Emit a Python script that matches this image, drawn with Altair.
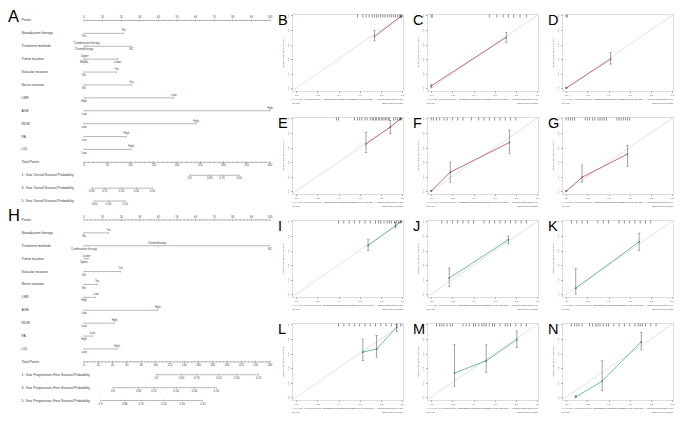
import altair as alt
import pandas as pd

FONT = "Liberation Sans"

# ---------------- Nomogram A (overall survival) ----------------
A_rows = ["Points", "Neoadjuvant  therapy", "Treatment  methods", "Tumor  location",
          "Vascular  invasion", "Nerve  invasion", "LMR", "AGE", "RDW", "PA", "LDL",
          "Total Points", "1- Year Overall Survival Probability",
          "3- Year Overall Survival Probability", "5- Year Overall Survival Probability"]
A_var_end = [21.4, 25.4, 18.3, 17.6, 25.6, 48.3, 100, 60.3, 22.8, 25.3]
A_lev_row = [1, 1, 2, 2, 2, 3, 3, 3, 4, 4, 5, 5, 6, 6, 7, 7, 8, 8, 9, 9, 10, 10]
A_lev_pos = [21.4, 0, 1.5, 0, 25.4, 0.5, 0, 18.1, 17.6, 0, 25.6, 0, 48.3, 0, 100, 0, 60.3, 0, 22.8, 0, 25.3, 0]
A_lev_text = ["No", "Yes", "Combination therapy", "Chemotherapy", "NC", "Upper", "Middle", "Lower",
              "Yes", "No", "Yes", "No", "Low", "High", "High", "Low", "High", "Low", "High", "Low", "High", "Low"]
A_lev_side = ["up", "dn", "up", "dn", "dn", "up", "dn", "dn", "up", "dn", "up", "dn",
              "up", "dn", "up", "dn", "up", "dn", "up", "dn", "up", "dn"]
A_total_max, A_total_step, A_total_minor = 400, 50, 10
A_1y_text = ["0.9", "0.80", "0.70", "0.50"]
A_1y_pos = [56.8, 67.6, 74.2, 83.4]
A_3y_text = ["0.80", "0.70", "0.50", "0.30", "0.10"]
A_3y_pos = [4.2, 11.1, 20.2, 28.2, 36.8]
A_5y_text = ["0.50", "0.30", "0.10"]
A_5y_pos = [5.7, 13.2, 22.1]

# ---------------- Nomogram H (progression-free survival) ----------------
H_rows = ["Points", "Neoadjuvant  therapy", "Treatment  methods", "Tumor  location",
          "Vascular  invasion", "Nerve  invasion", "LMR", "AGE", "RDW", "PA", "LDL",
          "Total Points", "1- Year Progression\u2013Free Survival Probability",
          "3- Year Progression\u2013Free Survival Probability",
          "5- Year Progression\u2013Free Survival Probability"]
H_var_end = [13.2, 100, 2.8, 19.7, 7.1, 6.4, 39.7, 16.4, 4.5, 17.8]
H_lev_row = [1, 1, 2, 2, 2, 3, 3, 4, 4, 5, 5, 6, 6, 7, 7, 8, 8, 9, 9, 10, 10]
H_lev_pos = [13.2, 0, 39.4, 0, 100, 1.4, 0, 19.7, 0, 7.1, 0, 6.4, 0, 39.7, 0, 16.4, 0, 4.5, 0, 17.8, 0]
H_lev_text = ["Yes", "No", "Chemotherapy", "Combination therapy", "NC", "Lower", "Upper",
              "Yes", "No", "Yes", "No", "Low", "High", "High", "Low", "High", "Low", "Low", "High", "High", "Low"]
H_lev_side = ["up", "dn", "up", "dn", "dn", "up", "dn", "up", "dn", "up", "dn",
              "up", "dn", "up", "dn", "up", "dn", "up", "dn", "up", "dn"]
H_total_max, H_total_step, H_total_minor = 260, 20, 5
H_1y_text = ["0.9", "0.80", "0.70", "0.50", "0.30", "0.10"]
H_1y_pos = [38.9, 52.4, 60.6, 72.5, 82.1, 93.9]
H_3y_text = ["0.9", "0.80", "0.70", "0.50", "0.30", "0.10"]
H_3y_pos = [15.5, 29.4, 37.6, 49.5, 59.4, 71.1]
H_5y_text = ["0.9", "0.80", "0.70", "0.50", "0.30", "0.10"]
H_5y_pos = [8.9, 22.0, 30.7, 42.9, 52.8, 63.9]

# ---------------- Calibration curves ----------------
B_x, B_y, B_lo, B_hi = [0.74, 0.995], [0.71, 0.99], [0.65, 0.97], [0.79, 1.0]
B_rug = [0.58, 0.63, 0.66, 0.69, 0.72, 0.74, 0.76, 0.78, 0.80, 0.82, 0.84, 0.86, 0.88, 0.90, 0.92, 0.94, 0.96, 0.98, 0.99]
C_x, C_y, C_lo, C_hi = [0.0, 0.71], [0.03, 0.70], [0.01, 0.63], [0.05, 0.77]
C_rug = [0.0, 0.01, 0.55, 0.62, 0.68, 0.73, 0.78, 0.84, 0.90]
D_x, D_y, D_lo, D_hi = [0.0, 0.42], [0.0, 0.40], [0.0, 0.33], [0.01, 0.49]
D_rug = [0.0, 0.01]
E_x, E_y, E_lo, E_hi = [0.66, 0.89, 0.99], [0.65, 0.88, 1.0], [0.53, 0.79, 0.99], [0.81, 0.97, 1.0]
E_rug = [0.38, 0.40, 0.55, 0.58, 0.60, 0.62, 0.65, 0.67, 0.70, 0.72, 0.73, 0.75, 0.76, 0.78, 0.79, 0.81, 0.82, 0.84, 0.85, 0.87, 0.88, 0.92, 0.94, 0.96, 0.98, 0.99]
F_x, F_y, F_lo, F_hi = [0.0, 0.18, 0.74], [0.0, 0.26, 0.67], [0.0, 0.12, 0.52], [0.01, 0.40, 0.84]
F_rug = [0.0, 0.02, 0.05, 0.08, 0.12, 0.15, 0.2, 0.25, 0.3, 0.38, 0.45, 0.5, 0.55, 0.6, 0.65, 0.7, 0.75, 0.8]
G_x, G_y, G_lo, G_hi = [0.0, 0.15, 0.58], [0.0, 0.19, 0.51], [0.0, 0.12, 0.34], [0.01, 0.36, 0.63]
G_rug = [0.0, 0.02, 0.04, 0.06, 0.08, 0.18, 0.2, 0.22, 0.25, 0.27, 0.3, 0.32, 0.34, 0.36, 0.38, 0.48, 0.5, 0.52, 0.54, 0.56, 0.58, 0.6]
I_x, I_y, I_lo, I_hi = [0.68, 0.94, 0.99], [0.67, 0.94, 1.0], [0.60, 0.91, 0.99], [0.75, 0.99, 1.0]
I_rug = [0.4, 0.45, 0.5, 0.55, 0.6, 0.65, 0.7, 0.75, 0.78, 0.8, 0.83, 0.86, 0.88, 0.9, 0.93, 0.95, 0.97, 0.99]
J_x, J_y, J_lo, J_hi = [0.17, 0.73], [0.22, 0.75], [0.1, 0.69], [0.36, 0.8]
J_rug = [0.1, 0.15, 0.2, 0.25, 0.3, 0.35, 0.4, 0.5, 0.55, 0.6, 0.65, 0.7, 0.75, 0.8, 0.85, 0.9]
K_x, K_y, K_lo, K_hi = [0.09, 0.69], [0.08, 0.72], [0.0, 0.6], [0.35, 0.84]
K_rug = [0.05, 0.1, 0.15, 0.2, 0.3, 0.35, 0.4, 0.5, 0.55, 0.6, 0.65, 0.7, 0.75, 0.8]
L_x, L_y, L_lo, L_hi = [0.63, 0.76, 0.95], [0.62, 0.66, 0.96], [0.5, 0.55, 0.9], [0.8, 0.85, 1.0]
L_rug = [0.4, 0.45, 0.5, 0.55, 0.6, 0.65, 0.7, 0.75, 0.8, 0.85, 0.9, 0.95, 0.99]
M_x, M_y, M_lo, M_hi = [0.22, 0.52, 0.81], [0.33, 0.50, 0.79], [0.15, 0.34, 0.68], [0.72, 0.72, 0.91]
M_rug = [0.05, 0.08, 0.1, 0.12, 0.15, 0.18, 0.2, 0.3, 0.33, 0.36, 0.4, 0.42, 0.45, 0.48, 0.5, 0.52, 0.55, 0.58, 0.6, 0.65, 0.7, 0.72, 0.75, 0.8, 0.85, 0.9]
N_x, N_y, N_lo, N_hi = [0.09, 0.34, 0.71], [0.0, 0.22, 0.76], [0.0, 0.09, 0.65], [0.02, 0.50, 0.89]
N_rug = [0.05, 0.08, 0.1, 0.12, 0.15, 0.22, 0.25, 0.28, 0.3, 0.32, 0.35, 0.38, 0.4, 0.45, 0.5, 0.55, 0.6, 0.65, 0.68, 0.7, 0.72, 0.75, 0.8, 0.85]

FOOT_L = "n=444 d=120 p=11, 50 subjects per group\nGray: ideal"
FOOT_R = "X - resampling optimism added, B=1000\nBased on observed-predicted"

OS_LINE, OS_PT = "#b5486c", "#6b3d9a"
PFS_LINE, PFS_PT = "#4aa898", "#2a4fc0"

NOMO_W, NOMO_H = 186, 193.5
CAL_W, CAL_H = 111, 77


def nomogram(rows, var_end, lev_row, lev_pos, lev_text, lev_side, tp_max, tp_step, tp_minor,
             probs, letter):
    n = len(rows)
    segs, ticks, labs = [], [], []
    segs.append((0, 0, 100))
    for v in range(0, 101, 2):
        ticks.append((0, v, 1.6))
    for v in range(0, 101, 10):
        ticks.append((0, v, 2.6))
        labs.append((0, v, str(v), "up"))
    for i, e in enumerate(var_end):
        segs.append((i + 1, 0, e))
    for r, p, t, s in zip(lev_row, lev_pos, lev_text, lev_side):
        ticks.append((r, p, 2.2))
        labs.append((r, p, t, s))
    tr = len(var_end) + 1
    segs.append((tr, 0, 100))
    for v in range(0, tp_max + 1, tp_minor):
        ticks.append((tr, v / tp_max * 100, 1.6))
    for v in range(0, tp_max + 1, tp_step):
        ticks.append((tr, v / tp_max * 100, 2.6))
        labs.append((tr, v / tp_max * 100, str(v), "dn"))
    for k, (texts, pos) in enumerate(probs):
        r = tr + 1 + k
        segs.append((r, min(pos), max(pos)))
        for t, p in zip(texts, pos):
            ticks.append((r, p, 2.4))
            labs.append((r, p, t, "dn"))

    seg_df = pd.DataFrame(segs, columns=["row", "x0", "x1"])
    tick_df = pd.DataFrame(ticks, columns=["row", "x", "sz"])
    lab_df = pd.DataFrame(labs, columns=["row", "x", "text", "side"])
    row_df = pd.DataFrame({"row": list(range(n)), "label": rows})

    xs = alt.Scale(domain=[0, 100], nice=False, zero=False)
    ys = alt.Scale(domain=[-0.5, n - 0.5], reverse=True, nice=False, zero=False)
    Y = alt.Y("row:Q", scale=ys, axis=None)

    names = alt.Chart(row_df).mark_text(align="left", baseline="middle", fontSize=3.4,
                                        color="#333", font=FONT).encode(
        x=alt.value(-62.5), y=Y, text="label:N")
    lines = alt.Chart(seg_df).mark_rule(color="#9a9a9a", strokeWidth=0.7).encode(
        x=alt.X("x0:Q", scale=xs, axis=None), x2="x1:Q", y=Y)
    tk = alt.Chart(tick_df).mark_tick(orient="vertical", color="#8a8a8a", thickness=0.5).encode(
        x=alt.X("x:Q", scale=xs, axis=None), y=Y, size=alt.Size("sz:Q", scale=None, legend=None))
    up = alt.Chart(lab_df).transform_filter(alt.datum.side == "up").mark_text(
        baseline="bottom", dy=-1.6, fontSize=2.8, color="#444", font=FONT).encode(
        x=alt.X("x:Q", scale=xs, axis=None), y=Y, text="text:N")
    dn = alt.Chart(lab_df).transform_filter(alt.datum.side == "dn").mark_text(
        baseline="top", dy=1.6, fontSize=2.8, color="#444", font=FONT).encode(
        x=alt.X("x:Q", scale=xs, axis=None), y=Y, text="text:N")
    row0 = NOMO_H / n / 2
    let = alt.Chart(pd.DataFrame({"t": [letter]})).mark_text(
        align="left", baseline="alphabetic", fontSize=16.5, font=FONT, color="#000").encode(
        x=alt.value(-76), y=alt.value(row0 + 1.3), text="t:N")
    return alt.layer(lines, tk, up, dn, names, let).properties(
        width=NOMO_W, height=NOMO_H, view=alt.ViewBackground(stroke=None))


def calib(letter, px, py, lo, hi, rug, horizon, endpoint, line_c, pt_c):
    xs = alt.Scale(domain=[-0.04, 1.01], nice=False, zero=False)
    ys = alt.Scale(domain=[-0.04, 1.02], nice=False, zero=False)
    common = dict(values=[0, 0.2, 0.4, 0.6, 0.8, 1.0], format=".1f", labelFontSize=2.4,
                  titleFontSize=2.4, tickSize=1.5, grid=False, domain=False, titlePadding=1.5,
                  labelPadding=1, tickColor="#333", tickWidth=0.4, labelColor="#333",
                  titleColor="#333", titleFontWeight="normal", labelFont=FONT, titleFont=FONT)
    xax = alt.Axis(title=f"Nomogram Predicted Probability of {horizon} {endpoint}", **common)
    yax = alt.Axis(title=f"Actual {horizon} {endpoint}(proportion)", labelAngle=-90,
                   labelAlign="center", labelBaseline="bottom", **common)
    X = lambda f: alt.X(f, scale=xs, axis=xax)
    Yf = lambda f: alt.Y(f, scale=ys, axis=yax)

    ideal = pd.DataFrame({"x": [-0.04, 1.02], "y": [-0.04, 1.02]})
    pts = pd.DataFrame({"x": px, "y": py, "lo": lo, "hi": hi})
    caps = pd.DataFrame({"x": px + px, "y": lo + hi})
    rug_df = pd.DataFrame({"r": rug})
    txt = pd.DataFrame({"l": [FOOT_L], "r": [FOOT_R], "t": [letter]})

    base_ideal = alt.Chart(ideal).mark_line(color="#cfcfcf", strokeWidth=0.6, clip=True).encode(
        x=X("x:Q"), y=Yf("y:Q"))
    cal_line = alt.Chart(pts).mark_line(color=line_c, strokeWidth=0.8).encode(x=X("x:Q"), y=Yf("y:Q"))
    bars = alt.Chart(pts).mark_rule(color="#444", strokeWidth=0.5).encode(
        x=X("x:Q"), y=Yf("lo:Q"), y2="hi:Q")
    cap = alt.Chart(caps).mark_tick(orient="horizontal", color="#444", size=2.5, thickness=0.5,
                                    clip=True).encode(x=X("x:Q"), y=Yf("y:Q"))
    dots = alt.Chart(pts).mark_point(shape="circle", size=3, color=pt_c, filled=True).encode(
        x=X("x:Q"), y=Yf("y:Q"))
    rugs = alt.Chart(rug_df).mark_rule(color="#222", strokeWidth=0.5).encode(
        x=X("r:Q"), y=alt.value(0.5), y2=alt.value(3.5))
    fl = alt.Chart(txt).mark_text(align="left", baseline="top", fontSize=1.6, lineBreak="\n",
                                  color="#444", font=FONT).encode(
        x=alt.value(0), y=alt.value(CAL_H + 8), text="l:N")
    fr = alt.Chart(txt).mark_text(align="right", baseline="top", fontSize=1.6, lineBreak="\n",
                                  color="#444", font=FONT).encode(
        x=alt.value(CAL_W), y=alt.value(CAL_H + 8), text="r:N")
    let = alt.Chart(txt).mark_text(align="left", baseline="alphabetic", fontSize=14.5,
                                   font=FONT, color="#000").encode(
        x=alt.value(-14), y=alt.value(10.5), text="t:N")
    return alt.layer(base_ideal, cal_line, bars, cap, dots, rugs, fl, fr, let).properties(
        width=CAL_W, height=CAL_H)


nomA = nomogram(A_rows, A_var_end, A_lev_row, A_lev_pos, A_lev_text, A_lev_side,
                A_total_max, A_total_step, A_total_minor,
                [(A_1y_text, A_1y_pos), (A_3y_text, A_3y_pos), (A_5y_text, A_5y_pos)], "A")
nomH = nomogram(H_rows, H_var_end, H_lev_row, H_lev_pos, H_lev_text, H_lev_side,
                H_total_max, H_total_step, H_total_minor,
                [(H_1y_text, H_1y_pos), (H_3y_text, H_3y_pos), (H_5y_text, H_5y_pos)], "H")

panels = [
    calib("B", B_x, B_y, B_lo, B_hi, B_rug, "1-year", "OS", OS_LINE, OS_PT),
    calib("C", C_x, C_y, C_lo, C_hi, C_rug, "3-year", "OS", OS_LINE, OS_PT),
    calib("D", D_x, D_y, D_lo, D_hi, D_rug, "5-year", "OS", OS_LINE, OS_PT),
    calib("E", E_x, E_y, E_lo, E_hi, E_rug, "1-year", "OS", OS_LINE, OS_PT),
    calib("F", F_x, F_y, F_lo, F_hi, F_rug, "3-year", "OS", OS_LINE, OS_PT),
    calib("G", G_x, G_y, G_lo, G_hi, G_rug, "5-year", "OS", OS_LINE, OS_PT),
    calib("I", I_x, I_y, I_lo, I_hi, I_rug, "1-year", "PFS", PFS_LINE, PFS_PT),
    calib("J", J_x, J_y, J_lo, J_hi, J_rug, "3-year", "PFS", PFS_LINE, PFS_PT),
    calib("K", K_x, K_y, K_lo, K_hi, K_rug, "5-year", "PFS", PFS_LINE, PFS_PT),
    calib("L", L_x, L_y, L_lo, L_hi, L_rug, "1-year", "PFS", PFS_LINE, PFS_PT),
    calib("M", M_x, M_y, M_lo, M_hi, M_rug, "3-year", "PFS", PFS_LINE, PFS_PT),
    calib("N", N_x, N_y, N_lo, N_hi, N_rug, "5-year", "PFS", PFS_LINE, PFS_PT),
]

left = alt.vconcat(nomA, nomH, spacing=5.5, bounds="flush")
right = alt.concat(*panels, columns=3, spacing=alt.RowColnumber(row=26, column=24),
                   bounds="flush")
chart = alt.hconcat(left, right, spacing=4).properties(
    padding=0, background="white"
).configure_view(stroke="#333", strokeWidth=0.6).configure(font=FONT)

chart.save("out.html", embed_options={"renderer": "svg", "actions": False})
